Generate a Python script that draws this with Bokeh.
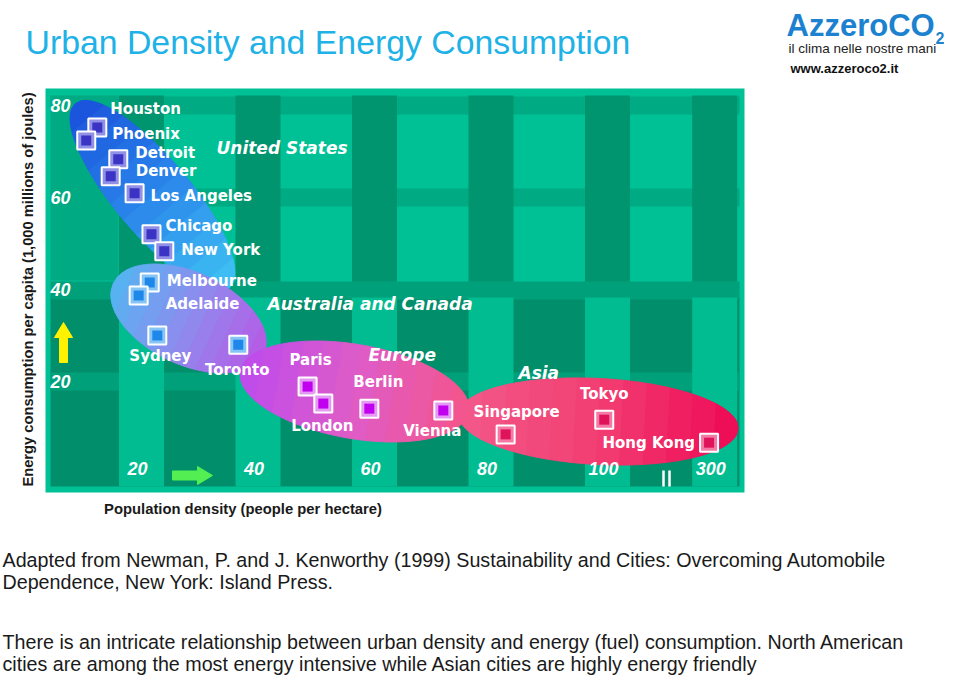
import numpy as np
from bokeh.plotting import figure
from bokeh.models import Range1d, ColumnDataSource, CDSView, IndexFilter
from bokeh.embed import file_html
from bokeh.resources import INLINE
from bokeh.core.properties import value

# ---------------- data ----------------
cities = ["Houston", "Phoenix", "Detroit", "Denver", "Los Angeles", "Chicago",
          "New York", "Melbourne", "Adelaide", "Sydney", "Toronto", "Paris",
          "London", "Berlin", "Vienna", "Singapore", "Tokyo", "Hong Kong"]
density = [13.1, 11.2, 16.7, 15.4, 19.5, 22.4, 24.6, 22.1, 20.2, 23.4, 37.3,
           49.2, 51.9, 59.8, 72.5, 83.2, 101.4, 297]
energy = [75.2, 72.4, 68.3, 64.6, 60.9, 52.0, 48.3, 41.5, 38.7, 30.0, 28.0,
          18.9, 15.2, 14.1, 13.7, 8.5, 11.7, 6.7]
group = (["United States"] * 7 + ["Australia and Canada"] * 4 +
         ["Europe"] * 4 + ["Asia"] * 3)
regions = ["United States", "Australia and Canada", "Europe", "Asia"]
x_ticks = [20, 40, 60, 80, 100, 300]
y_ticks = [20, 40, 60, 80]

title = "Urban Density and Energy Consumption"
x_title = "Population density (people per hectare)"
y_title = "Energy consumption per capita (1,000 millions of joules)"
source_lines = ["Adapted from Newman, P. and J. Kenworthy (1999) Sustainability and Cities: Overcoming Automobile",
                "Dependence, New York: Island Press."]
note_lines = ["There is an intricate relationship between urban density and energy (fuel) consumption. North American",
              "cities are among the most energy intensive while Asian cities are highly energy friendly"]
logo_lines = ["il clima nelle nostre mani", "www.azzeroco2.it"]

# ---------------- scales / layout ----------------
X0, SX = 20.5, 5.825      # canvas px of density 0, px per unit
Y0, SY = 473.0, 4.6       # canvas px of energy 0, px per unit
BREAK_SCALE = 0.092       # compression beyond the axis break at 100
W, H = 944, 676


def xpos(v):
    return v if v <= 100 else 100 + (v - 100) * BREAK_SCALE


def PX(px):
    return (np.asarray(px, dtype=float) - X0) / SX


def PY(py):
    return (Y0 - np.asarray(py, dtype=float)) / SY


p = figure(width=W, height=H, x_range=Range1d(float(PX(0)), float(PX(W))),
           y_range=Range1d(float(PY(H)), float(PY(0))),
           toolbar_location=None, output_backend="svg", min_border=0,
           x_axis_location=None, y_axis_location=None, tools="",
           outline_line_color=None, background_fill_color="white",
           border_fill_color="white")
p.xgrid.visible = False
p.ygrid.visible = False

LIGHT, MED, DARK = "#00C196", "#00AA82", "#008E6B"
FONT = value("Liberation Sans")


def quad(l, r, t, b, color):
    p.quad(left=list(PX(l)), right=list(PX(r)), top=list(PY(t)), bottom=list(PY(b)),
           fill_color=color, line_color=None)


# background frame
quad([45], [744], [88], [492], LIGHT)
col_c = [X0 + SX * xpos(t) + 4 for t in x_ticks]
row_c = [Y0 - SY * t for t in y_ticks]
# upper part
quad([50], [739], [row_c[3] - 9], [row_c[3] + 9], MED)
quad([50], [739], [row_c[2] - 9], [row_c[2] + 9], MED)
quad([50], [118], [95], [280], MED)
quad([c - 22.5 for c in col_c], [c + 22.5 for c in col_c], [95] * 6, [285] * 6, "#00946F")
# lower part
quad([50], [739], [297], [486], DARK)
quad([50], [739], [row_c[0] - 9], [row_c[0] + 9], "#00A07A")
quad([50], [739], [row_c[1] - 8], [row_c[1] + 10], "#00A07A")
quad([c - 22.5 for c in col_c], [c + 22.5 for c in col_c], [297] * 6, [486] * 6, "#00BC90")


def ramp(stops, n):
    rgb = np.array([[int(s[i:i + 2], 16) for i in (1, 3, 5)] for s in stops], float)
    pos = np.linspace(0, 1, len(stops))
    out = []
    for t in np.linspace(0, 1, n):
        c = [np.interp(t, pos, rgb[:, k]) for k in range(3)]
        out.append("#%02x%02x%02x" % tuple(int(round(v)) for v in c))
    return out


def blob(cx, cy, a, b, ang, stops, n=12):
    th = np.radians(ang)
    edges = np.linspace(-a, a, n + 1)
    xs, ys = [], []
    for i in range(n):
        u = np.linspace(edges[i], edges[i + 1], 14)
        v = b * np.sqrt(np.clip(1 - (u / a) ** 2, 0, None))
        uu = np.concatenate([u, u[::-1]])
        vv = np.concatenate([v, -v[::-1]])
        px = cx + uu * np.cos(th) - vv * np.sin(th)
        py = cy + uu * np.sin(th) + vv * np.cos(th)
        xs.append(list(PX(px)))
        ys.append(list(PY(py)))
    cols = ramp(stops, n)
    p.patches(xs, ys, fill_color=cols, line_color=cols, line_width=1)


blob(152, 195, 120, 38, 50, ["#1B55DD", "#2A86EA", "#3DBDF3"])
blob(188, 318, 83, 46, 25, ["#58B2F2", "#8E8CEE", "#B45EE6"])
blob(598, 421, 140, 43, 3, ["#F35688", "#F23E72", "#EE0E58"])
blob(354, 391, 116, 47, 10, ["#C04CEA", "#DE5CC8", "#F3558F"])

# arrows
yax = [63, 72, 67, 67, 59, 59, 54]
yay = [322, 337, 337, 362, 362, 337, 337]
p.patch(list(PX(yax)), list(PY(yay)), fill_color="#FFF200", line_color="#FFF200")
gax = [212, 197, 197, 172, 172, 197, 197]
gay = [475, 466, 470.5, 470.5, 479.5, 479.5, 484]
p.patch(list(PX(gax)), list(PY(gay)), fill_color="#52EE52", line_color="#52EE52")
# axis break mark
p.segment(x0=list(PX([663, 669])), x1=list(PX([663, 669])), y0=list(PY([470, 470])),
          y1=list(PY([486, 486])), line_color="white", line_width=2.5)

# tick labels (inside the frame)
p.text(x=[xpos(t) for t in x_ticks], y=[float(PY(468))] * len(x_ticks),
       text=[str(t) for t in x_ticks], text_font=FONT, text_font_style="bold italic",
       text_font_size="18px", text_color="white", text_align="center", text_baseline="middle")
p.text(x=[float(PX(50))] * len(y_ticks), y=y_ticks, text=[str(t) for t in y_ticks],
       text_font=FONT, text_font_style="bold italic", text_font_size="18px",
       text_color="white", text_align="left", text_baseline="middle")

# region names
reg_px = [(216, 147), (267, 303), (368, 354), (518, 372)]
p.text(x=[float(PX(a)) for a, _ in reg_px], y=[float(PY(b)) for _, b in reg_px], text=regions,
       text_font=value("DejaVu Sans"), text_font_style="bold italic", text_font_size="17px",
       text_color="white", text_align="left", text_baseline="middle")

# markers
inner = {"United States": "#3A33C4", "Australia and Canada": "#1E88EA",
         "Europe": "#C000EE", "Asia": "#E0125A"}
tint = {"United States": "#9090E6", "Australia and Canada": "#86C4F6",
        "Europe": "#E49AF2", "Asia": "#F27AA4"}
xp = [xpos(d) for d in density]
src = ColumnDataSource(dict(x=xp, y=energy, city=cities,
                            inner=[inner[g] for g in group], tint=[tint[g] for g in group]))
for i in range(len(cities)):
    view = CDSView(filter=IndexFilter([i]))
    p.scatter("x", "y", source=src, view=view, marker="square", size=18,
              fill_color="tint", line_color="white", line_width=2)
    p.scatter("x", "y", source=src, view=view, marker="square", size=10,
              fill_color="inner", line_color=None)

# city labels: pixel offsets (right, down) from marker and anchor
offs = [(13, -19, "left"), (26, -6, "left"), (17, -6, "left"), (25, -5, "left"),
        (16, 3, "left"), (14, -8, "left"), (17, -1, "left"), (17, -2, "left"),
        (27, 9, "left"), (3, 20, "center"), (-1, 25, "center"), (3, -27, "center"),
        (-1, 22, "center"), (9, -27, "center"), (-11, 21, "center"),
        (11, -22, "center"), (0, -26, "center"), (-14, 0, "right")]
src.data["lx"] = [x + o[0] / SX for x, o in zip(xp, offs)]
src.data["ly"] = [y - o[1] / SY for y, o in zip(energy, offs)]
for anchor in ("left", "center", "right"):
    idx = [i for i, o in enumerate(offs) if o[2] == anchor]
    p.text("lx", "ly", text="city", source=src, view=CDSView(filter=IndexFilter(idx)),
           text_font=value("DejaVu Sans"), text_font_style="bold", text_font_size="15px",
           text_color="white", text_align=anchor, text_baseline="middle")

# axis titles
p.text(x=[float(PX(27))], y=[float(PY(289))], text=[y_title], angle=np.pi / 2,
       text_font=FONT, text_font_style="bold", text_font_size="14.7px", text_color="#1a1a1a",
       text_align="center", text_baseline="middle")
p.text(x=[float(PX(242.5))], y=[float(PY(508))], text=[x_title],
       text_font=FONT, text_font_style="bold", text_font_size="14.8px", text_color="#1a1a1a",
       text_align="center", text_baseline="middle")

# slide title and notes
p.text(x=[float(PX(25))], y=[float(PY(41))], text=[title], text_font=FONT,
       text_font_size="33.8px", text_color="#20B2E6", text_align="left",
       text_baseline="middle")
p.text(x=[float(PX(2))] * 2, y=list(PY([559, 581])), text=source_lines, text_font=FONT,
       text_font_size="19.7px", text_color="#1a1a1a", text_align="left",
       text_baseline="middle")
p.text(x=[float(PX(2))] * 2, y=list(PY([641, 663])), text=note_lines, text_font=FONT,
       text_font_size="19.7px", text_color="#1a1a1a", text_align="left",
       text_baseline="middle")

# logo
p.text(x=[float(PX(786))], y=[float(PY(25))], text=["AzzeroCO"], text_font=FONT,
       text_font_style="bold", text_font_size="31px", text_color="#1C82CF",
       text_align="left", text_baseline="middle")
p.text(x=[float(PX(935))], y=[float(PY(37))], text=["2"], text_font=FONT,
       text_font_style="bold", text_font_size="16px", text_color="#1C82CF",
       text_align="left", text_baseline="middle")
p.text(x=[float(PX(788))], y=[float(PY(48))], text=[logo_lines[0]], text_font=FONT,
       text_font_size="13.5px", text_color="#222222", text_align="left",
       text_baseline="middle")
p.text(x=[float(PX(790))], y=[float(PY(68))], text=[logo_lines[1]], text_font=FONT,
       text_font_style="bold", text_font_size="13px", text_color="#111111",
       text_align="left", text_baseline="middle")

open("out.html", "w").write(file_html(p, INLINE))
